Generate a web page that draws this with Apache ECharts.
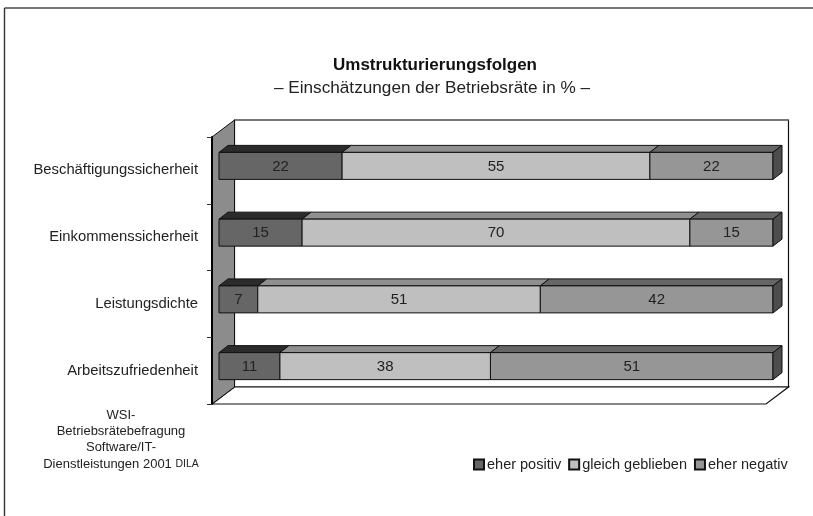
<!DOCTYPE html>
<html>
<head>
<meta charset="utf-8">
<style>html,body{margin:0;padding:0;background:#fff}#main{width:813px;height:516px}</style>
<script src="https://cdn.jsdelivr.net/npm/echarts@6/dist/echarts.min.js"></script>
</head>
<body>
<div id="main"></div>
<script>
var categories = ['Beschäftigungssicherheit', 'Einkommenssicherheit', 'Leistungsdichte', 'Arbeitszufriedenheit'];
var positiv = [22, 15, 7, 11];
var gleich = [55, 70, 51, 38];
var negativ = [22, 15, 42, 51];
var seriesNames = ['eher positiv', 'gleich geblieben', 'eher negativ'];

var fontName = '"Liberation Sans", Arial, sans-serif';
var labelColor = '#222';

// Balken liegen etwas hinter der Vorderkante des Bodens
var barShift = [7, -4.5];
var barDepth = [9, -7];
var barHeight = 27;
var wallDepth = [22.5, -17];

// gestapelt auf 100 %, auch wenn die Zeile nicht 100 ergibt (22+55+22)
var buildRows = function(values, before1, before2) {
	var rows = [];
	for (var i = 0; i < values.length; i++) {
		var sum = positiv[i] + gleich[i] + negativ[i];
		var start = (before1 ? before1[i] : 0) + (before2 ? before2[i] : 0);
		rows.push([start / sum * 100, (start + values[i]) / sum * 100, i, values[i]]);
	}
	return rows;
};

var poly = function(points, fill, stroke, width) {
	return {
		type: 'polygon',
		shape: {points: points},
		style: {fill: fill, stroke: stroke || '#111', lineWidth: width === undefined ? 1 : width}
	};
};

var barSeries = function(name, rows, front, top, side) {
	return {
		name: name,
		type: 'custom',
		z: 3,
		clip: false,
		itemStyle: {color: front, borderColor: '#111', borderWidth: 1},
		data: rows,
		renderItem: function(params, api) {
			var center = api.coord([0, api.value(2)]);
			var x0 = api.coord([api.value(0), api.value(2)])[0] + barShift[0];
			var x1 = api.coord([api.value(1), api.value(2)])[0] + barShift[0];
			var y0 = center[1] + barShift[1] - barHeight / 2;
			var y1 = y0 + barHeight;
			var dx = barDepth[0], dy = barDepth[1];
			var children = [
				poly([[x0, y0], [x0 + dx, y0 + dy], [x1 + dx, y0 + dy], [x1, y0]], top),
				poly([[x0, y0], [x1, y0], [x1, y1], [x0, y1]], front)
			];
			if (side) {
				children.push(poly([[x1, y0], [x1 + dx, y0 + dy], [x1 + dx, y1 + dy], [x1, y1]], side));
			}
			children.push({
				type: 'text',
				style: {
					x: (x0 + x1) / 2, y: (y0 + y1) / 2 + 0.5,
					text: String(api.value(3)),
					align: 'center', verticalAlign: 'middle',
					fill: labelColor, font: '15px ' + fontName
				}
			});
			return {type: 'group', children: children};
		}
	};
};

// Seitenwand, Rueckwand und Boden des 3D-Rahmens
var wallSeries = {
	type: 'custom',
	name: 'Wand',
	z: 1,
	clip: false,
	silent: true,
	data: [[0, 0]],
	renderItem: function(params) {
		var c = params.coordSys;
		var l = c.x, t = c.y, r = c.x + c.width, b = c.y + c.height;
		var dx = wallDepth[0], dy = wallDepth[1];
		return {
			type: 'group',
			children: [
				poly([[l + dx, t + dy], [r + dx, t + dy], [r + dx, b + dy], [l + dx, b + dy]], '#fff', '#111', 1.2),
				{type: 'line', shape: {x1: l + dx, y1: t + dy, x2: r + dx, y2: t + dy}, style: {stroke: '#777', lineWidth: 2}},
				poly([[l, b], [l + dx, b + dy], [r + dx, b + dy], [r, b]], '#fff', '#111', 1.2),
				poly([[l, t], [l + dx, t + dy], [l + dx, b + dy], [l, b]], '#8c8c8c', '#111', 1)
			]
		};
	}
};

var myChart = echarts.init(document.getElementById('main'), null, {renderer: 'canvas'});
myChart.setOption({
	backgroundColor: '#fff',
	animation: false,
	textStyle: {fontFamily: fontName},
	graphic: [
		{type: 'line', shape: {x1: 4.5, y1: 8, x2: 813, y2: 8}, style: {stroke: '#777', lineWidth: 2}},
		{type: 'line', shape: {x1: 4.5, y1: 8, x2: 4.5, y2: 516}, style: {stroke: '#333', lineWidth: 1.4}},
		{
			type: 'text',
			x: 121, y: 407,
			style: {
				text: 'WSI-\nBetriebsrätebefragung\nSoftware/IT-\nDienstleistungen 2001 {s|DILA}',
				align: 'center',
				fill: '#222',
				font: '13px ' + fontName,
				lineHeight: 16.3,
				rich: {s: {fontSize: 10.5, fontFamily: fontName, fill: '#222'}}
			}
		},
		{
			type: 'text',
			x: 435, y: 65,
			style: {
				text: 'Umstrukturierungsfolgen',
				align: 'center', verticalAlign: 'middle',
				fill: '#111',
				font: 'bold 17px ' + fontName
			}
		},
		{
			type: 'text',
			x: 432, y: 88,
			style: {
				text: '– Einschätzungen der Betriebsräte in % –',
				align: 'center', verticalAlign: 'middle',
				fill: '#222',
				font: '17.2px ' + fontName
			}
		}
	],
	legend: {
		left: 468, top: 452,
		data: seriesNames,
		icon: 'rect',
		itemWidth: 10, itemHeight: 10,
		itemGap: 7,
		selectedMode: false,
		textStyle: {fontSize: 14.5, color: '#222', padding: [1, 0, 0, -2], fontFamily: fontName}
	},
	grid: {left: 212, top: 137, width: 554, height: 267},
	xAxis: {type: 'value', min: 0, max: 100, show: false},
	yAxis: {
		type: 'category',
		inverse: true,
		data: categories,
		z: 5,
		axisLine: {show: true, lineStyle: {color: '#000', width: 2}},
		axisTick: {show: true, length: 5, lineStyle: {color: '#333', width: 1}},
		axisLabel: {fontSize: 14.8, color: '#222', margin: 14, fontFamily: fontName},
		splitLine: {show: false}
	},
	series: [
		wallSeries,
		barSeries(seriesNames[0], buildRows(positiv), '#666666', '#2b2b2b'),
		barSeries(seriesNames[1], buildRows(gleich, positiv), '#bfbfbf', '#8f8f8f'),
		barSeries(seriesNames[2], buildRows(negativ, positiv, gleich), '#969696', '#666666', '#4d4d4d')
	]
});
</script>
</body>
</html>
